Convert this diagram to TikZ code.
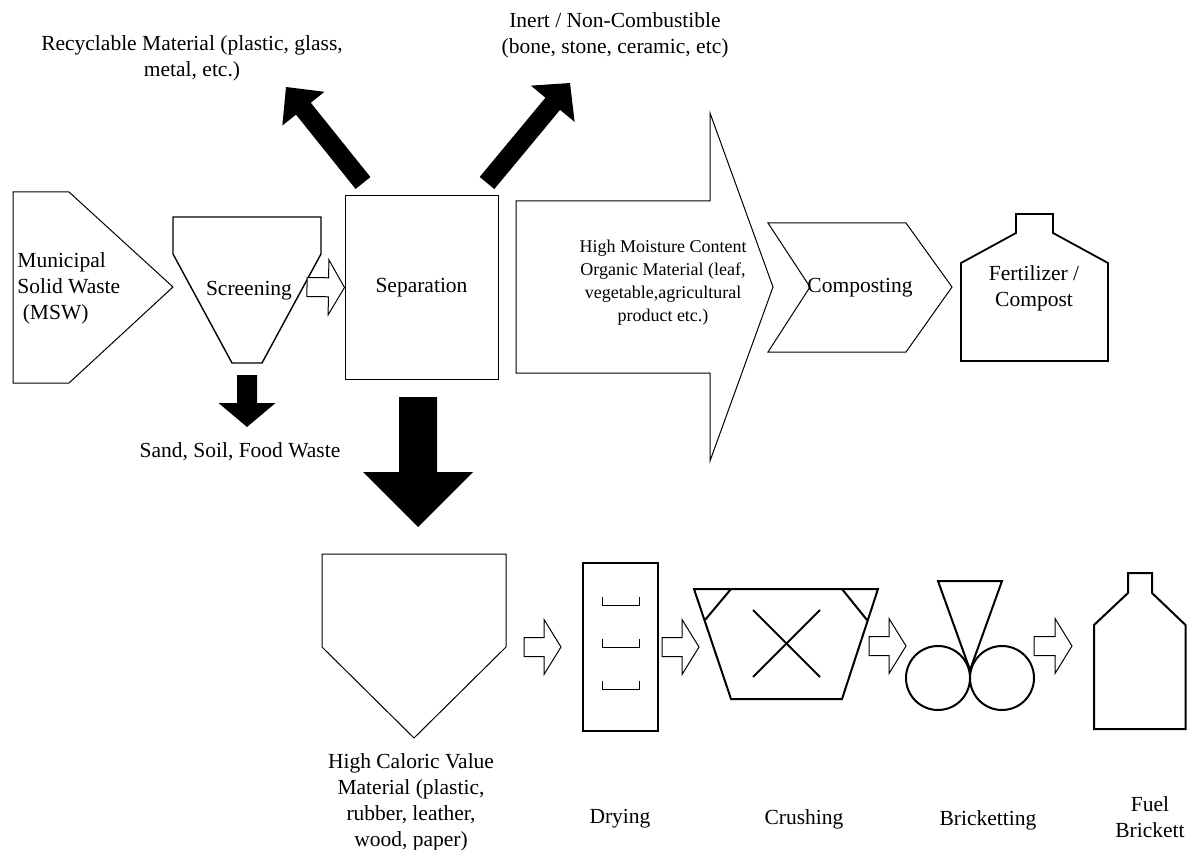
\documentclass[tikz,border=0pt]{standalone}
\usepackage{fontspec}
\setmainfont{Liberation Serif}
\usetikzlibrary{calc}

% block arrow from #2 (tail) to #3 (tip): shaft half width, head half width, head length
\newcommand{\blockarrow}[6][]{%
  \coordinate (ba-base) at ($(#3)!#6!(#2)$);
  \path[#1] ($(#2)!#4!90:(#3)$) -- ($(ba-base)!#4!90:(#3)$) -- ($(ba-base)!#5!90:(#3)$)
    -- (#3) -- ($(ba-base)!#5!-90:(#3)$) -- ($(ba-base)!#4!-90:(#3)$) -- ($(#2)!#4!-90:(#3)$) -- cycle;
}

\begin{document}
\begin{tikzpicture}[
    x=0.5pt, y=-0.5pt,
    every node/.style={font=\fontsize{10.75}{13}\selectfont, align=center, inner sep=0pt},
    thinline/.style={draw, line width=0.5pt},
    thickline/.style={draw, line width=1pt},
    hollowarrow/.style={draw, fill=white, line width=0.5pt},
    blackarrow/.style={fill=black}
  ]
  \useasboundingbox (0,0) rectangle (1188,850);

  % top row shapes
  \draw[thinline] (13,192) -- (69,192) -- (173,287) -- (69,383) -- (13,383) -- cycle;
  \node[anchor=west, align=left] (msw) at (17,288) {Municipal\\Solid Waste\\\hspace*{0.25em}(MSW)};

  \draw[line width=0.7pt] (173,217) -- (321,217) -- (321,254) -- (262,363) -- (232,363) -- (173,254) -- cycle;
  \node (scr) at (249,291) {Screening};

  \node[thinline, minimum width=76.5pt, minimum height=91.5pt] (sep) at (421.5,287.5) {Separation};

  \coordinate (org-tail) at (516,287);
  \coordinate (org-tip) at (773,287);
  \blockarrow[thinline]{org-tail}{org-tip}{43pt}{87pt}{31.5pt}
  \node[font=\fontsize{9}{11.5}\selectfont] (organic) at (663,283) {High Moisture Content\\Organic Material (leaf,\\vegetable,agricultural\\product etc.)};

  \draw[thinline] (768,223) -- (906,223) -- (952,287) -- (906,352) -- (768,352) -- (810,287) -- cycle;
  \node (compost) at (860,288) {Composting};

  \draw[line width=0.9pt] (961,263) -- (1016,233) -- (1016,214) -- (1053,214) -- (1053,233) -- (1108,263) -- (1108,361) -- (961,361) -- cycle;
  \node (fert) at (1034,288) {Fertilizer /\\Compost};

  % outputs of screening and separation
  \node (sand) at (240,452) {Sand, Soil, Food Waste};
  \node (recyc) at (192,58) {Recyclable Material (plastic, glass,\\metal, etc.)};
  \node (inert) at (615,35) {Inert / Non-Combustible\\(bone, stone, ceramic, etc)};

  \coordinate (scr-out) at (307,287);
  \blockarrow[hollowarrow]{scr-out}{sep.west}{4.75pt}{13.75pt}{8pt}
  \coordinate (scr-down) at (247,375);
  \coordinate (sand-top) at (247,427);
  \blockarrow[blackarrow]{scr-down}{sand-top}{5pt}{14.25pt}{12pt}
  \coordinate (sep-nw) at (363,183);
  \coordinate (recyc-in) at (286,87);
  \blockarrow[blackarrow]{sep-nw}{recyc-in}{4.75pt}{13.5pt}{13.9pt}
  \coordinate (sep-ne) at (487,183);
  \coordinate (inert-in) at (570,83);
  \blockarrow[blackarrow]{sep-ne}{inert-in}{4.75pt}{14.2pt}{13.5pt}
  \coordinate (sep-down) at (418,397);
  \coordinate (hcv-top) at (418,527);
  \blockarrow[blackarrow]{sep-down}{hcv-top}{9.5pt}{27.5pt}{27.5pt}

  % bottom row shapes
  \draw[thinline] (322,554) -- (506,554) -- (506,647) -- (414,738) -- (322,647) -- cycle;
  \node (hcv) at (411,802) {High Caloric Value\\Material (plastic,\\rubber, leather,\\wood, paper)};

  \node[thickline, minimum width=37.5pt, minimum height=84pt] (dry) at (620.5,647) {};
  \foreach \by in {605,647,689}
    \draw[thinline] (602,\by-8) -- (602,\by) -- (639,\by) -- (639,\by-8);
  \node (drying) at (620,819) {Drying};

  \draw[thickline] (694,589) -- (878,589) -- (842,699) -- (731,699) -- cycle;
  \draw[thickline] (731,589) -- (705,620);
  \draw[thickline] (842,589) -- (867,620);
  \draw[thickline] (753,610) -- (820,677);
  \draw[thickline] (753,677) -- (820,610);
  \node (crush) at (804,819) {Crushing};

  \draw[thickline] (938,581) -- (1002,581) -- (970,670) -- cycle;
  \draw[thickline] (938,678) circle[radius=32];
  \draw[thickline] (1002,678) circle[radius=32];
  \node (brick) at (988,820) {Bricketting};

  \draw[thickline] (1094,625) -- (1128,593) -- (1128,573) -- (1152,573) -- (1152,593) -- (1185.5,625) -- (1185.5,729) -- (1094,729) -- cycle;
  \node (fuel) at (1150,817) {Fuel\\Brickett};

  % arrows of the bottom row
  \coordinate (hcv-out) at (524,647);
  \coordinate (dry-in) at (561,647);
  \blockarrow[hollowarrow]{hcv-out}{dry-in}{4.75pt}{13.75pt}{8.5pt}
  \coordinate (dry-out) at (662,647);
  \coordinate (crush-in) at (699,647);
  \blockarrow[hollowarrow]{dry-out}{crush-in}{4.75pt}{13.75pt}{8.5pt}
  \coordinate (crush-out) at (869,646);
  \coordinate (brick-in) at (906,646);
  \blockarrow[hollowarrow]{crush-out}{brick-in}{4.75pt}{13.75pt}{8.5pt}
  \coordinate (brick-out) at (1034,646);
  \coordinate (fuel-in) at (1072,646);
  \blockarrow[hollowarrow]{brick-out}{fuel-in}{4.75pt}{13.75pt}{8.5pt}
\end{tikzpicture}
\end{document}
